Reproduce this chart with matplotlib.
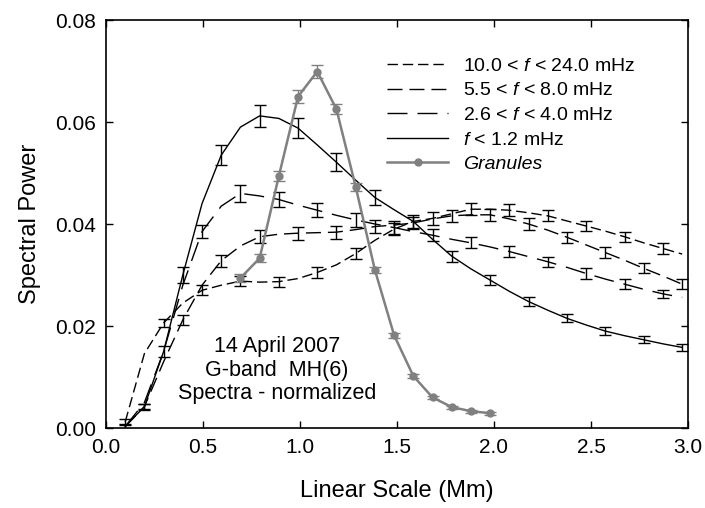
import numpy as np
import matplotlib.pyplot as plt

plt.rcParams['font.family'] = ['Liberation Sans', 'DejaVu Sans']
plt.rcParams['mathtext.fontset'] = 'custom'
plt.rcParams['mathtext.rm'] = 'Liberation Sans'
plt.rcParams['mathtext.it'] = 'Liberation Sans:italic'

# linear scale grid (Mm), one sample per step
scale = np.arange(1, 31) * 0.099

# normalized spectral power
p_hi = [0.0012, 0.0146, 0.0206, 0.0245, 0.0270, 0.0280, 0.0288, 0.0286, 0.0287, 0.0293,
        0.0305, 0.0320, 0.0342, 0.0368, 0.0390, 0.0405, 0.0411, 0.0420, 0.0429, 0.0429,
        0.0427, 0.0422, 0.0416, 0.0406, 0.0396, 0.0386, 0.0375, 0.0363, 0.0352, 0.0341]
p_mid = [0.0003, 0.0042, 0.0130, 0.0212, 0.0280, 0.0328, 0.0357, 0.0375, 0.0380, 0.0382,
         0.0383, 0.0384, 0.0389, 0.0395, 0.0398, 0.0402, 0.0410, 0.0416, 0.0418, 0.0418,
         0.0410, 0.0400, 0.0388, 0.0374, 0.0359, 0.0344, 0.0329, 0.0313, 0.0298, 0.0282]
p_low = [0.0003, 0.0050, 0.0150, 0.0280, 0.0385, 0.0435, 0.0460, 0.0455, 0.0448, 0.0437,
         0.0427, 0.0417, 0.0408, 0.0400, 0.0393, 0.0385, 0.0378, 0.0370, 0.0363, 0.0355,
         0.0346, 0.0336, 0.0326, 0.0315, 0.0303, 0.0292, 0.0282, 0.0272, 0.0263, 0.0256]
p_slow = [0.0003, 0.0042, 0.0150, 0.0300, 0.0440, 0.0535, 0.0590, 0.0612, 0.0607, 0.0588,
          0.0555, 0.0521, 0.0486, 0.0452, 0.0428, 0.0405, 0.0370, 0.0337, 0.0312, 0.0290,
          0.0268, 0.0248, 0.0231, 0.0215, 0.0202, 0.0190, 0.0181, 0.0173, 0.0165, 0.0158]

# error bars (drawn on every other sample)
err_hi = [0.0006, 0.0008, 0.0010, 0.0010, 0.0010, 0.0010, 0.0010, 0.0012, 0.0012, 0.0012,
          0.0012, 0.0011, 0.0010, 0.0010, 0.0010]
err_mid = [0.0005, 0.0010, 0.0012, 0.0013, 0.0013, 0.0013, 0.0012, 0.0012, 0.0012, 0.0012,
           0.0011, 0.0011, 0.0010, 0.0010, 0.0010]
err_low = [0.0005, 0.0010, 0.0013, 0.0016, 0.0015, 0.0014, 0.0013, 0.0012, 0.0012, 0.0011,
           0.0011, 0.0010, 0.0010, 0.0010, 0.0008]
err_slow = [0.0006, 0.0015, 0.0020, 0.0022, 0.0020, 0.0018, 0.0015, 0.0013, 0.0011, 0.0010,
            0.0009, 0.0008, 0.0008, 0.0007, 0.0007]

# granules
gran_scale = scale[6:20]
gran = [0.0294, 0.0333, 0.0494, 0.0650, 0.0699, 0.0625, 0.0473, 0.0310, 0.0182, 0.0102,
        0.0060, 0.0041, 0.0033, 0.0029]
gran_err = [0.0008, 0.0008, 0.0010, 0.0012, 0.0012, 0.0010, 0.0008, 0.0006, 0.0005, 0.0004,
            0.0003, 0.0003, 0.0003, 0.0003]

labels = [r'10.0 < $f$ < 24.0 mHz', r'5.5 < $f$ < 8.0 mHz',
          r'2.6 < $f$ < 4.0 mHz', r'$f$ < 1.2 mHz']

fig = plt.figure(figsize=(7.05, 5.08), dpi=100)
ax = fig.add_axes([106 / 705, 1 - 428 / 508, 582 / 705, 408 / 508])

series = [
    (p_hi, err_hi, 0, (0, (7.5, 3.5)), labels[0]),
    (p_mid, err_mid, 1, (0, (10.8, 5)), labels[1]),
    (p_low, err_low, 0, (0, (14.4, 7.2)), labels[2]),
    (p_slow, err_slow, 1, '-', labels[3]),
]
for vals, errs, start, ls, lab in series:
    ax.plot(scale, vals, color='black', lw=1.0, ls=ls, label=lab)
    ax.errorbar(scale[start::2], vals[start::2], yerr=errs, fmt='none',
                ecolor='black', elinewidth=1.0, capsize=4.5, capthick=1.0)

ax.errorbar(gran_scale, gran, yerr=gran_err, fmt='none', ecolor='#808080',
            elinewidth=1.0, capsize=4.5, capthick=1.0)
ax.plot(gran_scale, gran, color='#808080', lw=1.8, marker='o', markersize=5,
        label='Granules')

ax.set_xlim(0, 3.0)
ax.set_ylim(0, 0.08)
ax.set_xticks(np.arange(0, 3.01, 0.5))
ax.set_yticks(np.arange(0, 0.081, 0.02))
ax.xaxis.set_major_formatter(plt.FormatStrFormatter('%.1f'))
ax.yaxis.set_major_formatter(plt.FormatStrFormatter('%.2f'))
ax.tick_params(direction='in', length=5, width=1.0, top=True, right=True,
               labelsize=15, pad=7)
for s in ax.spines.values():
    s.set_linewidth(1.2)

ax.set_xlabel('Linear Scale (Mm)', fontsize=17, labelpad=17)
ax.set_ylabel('Spectral Power', fontsize=17, labelpad=10)

ax.text(0.88, 0.0113, '14 April 2007\nG-band  MH(6)\nSpectra - normalized',
        ha='center', va='center', fontsize=15.5, linespacing=1.15)

leg = ax.legend(loc='upper right', bbox_to_anchor=(0.94, 0.952), frameon=False,
                fontsize=14, handlelength=3.1, handletextpad=0.8, labelspacing=0.36)
for t in leg.get_texts():
    if t.get_text() == 'Granules':
        t.set_style('italic')

fig.savefig('out.png', dpi=100)
